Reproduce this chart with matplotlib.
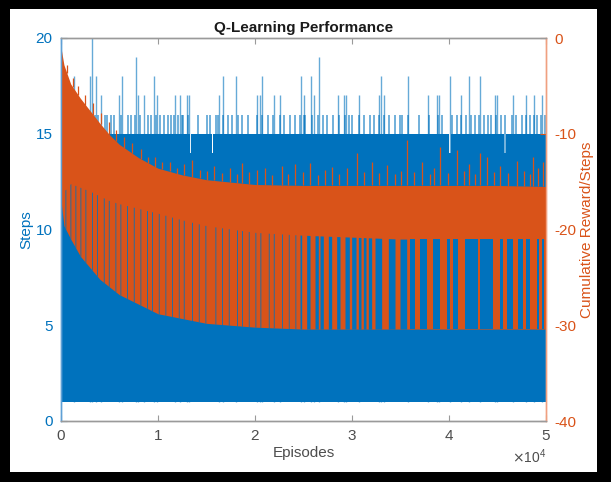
import numpy as np
import matplotlib
matplotlib.use("Agg")
import matplotlib.pyplot as plt
from matplotlib.patches import Rectangle

plt.rcParams['font.family'] = ['Liberation Sans', 'DejaVu Sans']
plt.rcParams['axes.unicode_minus'] = False

# ---------------- data ----------------
# envelope checkpoints (episodes)
env_eps = [0, 300, 1000, 2000, 3000, 4000, 5000, 6000, 8000, 10000, 12500,
           15000, 20000, 25000, 30000, 35000, 40000, 45000, 50000]
# cumulative reward / steps (right axis): dense upper edge
reward_top = [-1.0, -2.8, -4.8, -6.3, -7.6, -8.9, -10.1, -11.1, -12.5, -13.6, -14.3,
              -14.8, -15.3, -15.4, -15.4, -15.4, -15.4, -15.4, -15.5]
# bottom of the solid orange core
reward_core = [-17.0, -16.0, -15.2, -15.6, -16.0, -16.5, -17.0, -17.3, -17.8, -18.3, -19.0,
               -19.6, -20.3, -20.6, -20.8, -21.0, -21.0, -21.0, -21.0]
# lowest reward values
reward_low = [-17.0, -19.6, -21.0, -22.8, -24.0, -25.2, -26.0, -26.8, -27.8, -28.8, -29.3,
              -29.8, -30.2, -30.4, -30.4, -30.4, -30.4, -30.4, -30.4]

# episodes with rewards above the dense edge (episode, reward)
reward_spike_eps = [600, 1200, 1800, 2500, 3300, 4100, 4900, 5700, 6500, 7300, 8200,
                    9000, 9690, 10400, 11200, 12000, 12700, 13470, 14300, 15100, 15800,
                    16600, 17400, 18100, 18630, 19400, 20200, 21000, 21800, 22750, 23400,
                    24100, 24900, 25670, 26500, 27200, 27900, 28700, 29500, 30480, 31200,
                    32030, 32800, 33600, 34400, 35000, 35640, 36400, 37200, 38000, 38500,
                    39070, 39900, 40790, 41500, 42100, 42700, 43190, 43880, 44600, 45300,
                    46100, 46980, 47700, 48300, 48690, 49200, 49700]
reward_spike_vals = [-2.8, -4.2, -5.0, -6.0, -6.8, -7.8, -8.8, -9.6, -10.3, -11.0, -11.6,
                     -12.4, -12.4, -13.0, -13.0, -13.6, -13.2, -12.7, -13.8, -13.9, -13.4,
                     -14.1, -13.6, -14.2, -13.1, -14.0, -13.8, -13.6, -14.3, -13.4, -14.2,
                     -13.2, -14.0, -13.1, -14.3, -13.8, -13.5, -14.2, -13.6, -12.0, -14.0,
                     -13.0, -14.1, -13.3, -14.2, -13.9, -10.7, -14.0, -13.0, -14.2, -13.6,
                     -11.4, -14.1, -11.7, -13.9, -13.2, -14.2, -12.0, -12.4, -14.0, -13.4,
                     -14.1, -12.8, -13.9, -14.2, -12.4, -13.6, -13.0]

# episode ranges where reward stays in the core (steps series shows through)
gap_start = [412, 928, 1443, 1959, 2474, 3161, 3677, 4364, 4880, 5567, 6082, 6770, 7457,
             8144, 8832, 9347, 10034, 10721, 11409, 12096, 12611, 13470, 14158, 14845,
             15876, 16563, 17250, 18110, 18625, 19312, 20000, 20515, 21374, 21890, 22749,
             23436, 24123, 24639, 25326, 26185, 26701, 27560, 28419, 29278, 29965, 30653,
             31168, 31683, 32371, 33746, 34948, 35979, 37010, 38385, 39760, 40447, 41649,
             43200, 45257, 45945, 47147, 47900, 49038, 49600]
gap_end = [492, 1008, 1523, 2039, 2554, 3241, 3757, 4444, 4960, 5647, 6162, 6850, 7537,
           8224, 8912, 9427, 10114, 10801, 11489, 12176, 12691, 13550, 14238, 14925,
           15956, 16643, 17330, 18190, 18705, 19392, 20080, 20595, 21454, 21970, 22829,
           23516, 24203, 24811, 25670, 26529, 27044, 27904, 28762, 29725, 30412, 30928,
           31443, 32027, 33058, 34433, 35636, 36495, 37698, 39072, 40103, 40962, 43000,
           44570, 45601, 46632, 47600, 48350, 49300, 49800]

# steps series: typical maximum (step changes at these episodes)
cap_eps = [0, 13300, 13450, 15530, 15700, 40000, 40200, 45670, 45900, 50000]
cap_vals = [15, 14, 15, 14, 15, 14, 15, 14, 15, 15]
steps_floor = 1

# episodes reaching 16 steps
spike16_eps = [3127, 3470, 4502, 4776, 5464, 6220, 6907, 7250, 8110, 8969, 9828, 10171,
               11030, 11374, 12061, 12474, 12611, 13127, 15017, 15361, 16220, 16735, 17594,
               18625, 20171, 20687, 21889, 22577, 24123, 24639, 25051, 25120, 25876, 26495,
               26976, 28007, 28625, 29312, 30000, 30687, 31890, 32749, 33264, 33780, 34467,
               35154, 35773, 37938, 38866, 40858, 41202, 41718, 42233, 43092, 43607, 44295,
               44810, 45325, 46528, 47559, 47902, 48762, 49450, 49900,
               3800, 5200, 7600, 9300, 10600, 11700, 14100, 16000, 17200, 18200, 19300,
               21300, 23000, 23600, 27400, 29700, 31200, 32300, 34900, 36900, 39300,
               40300, 42700, 44000, 45800, 46900, 48300, 49100]
# episodes with 17+ steps
tall_eps = [1340, 2960, 3230, 3640, 4090, 5950, 6320, 7700, 7970, 8560, 9560, 9930,
            11780, 12240, 12960, 13230, 16320, 16670, 18040, 20170, 20520, 20760, 21990,
            22580, 24710, 25050, 25800, 26050, 26570, 28560, 29140, 29380, 30690, 32750,
            33020, 33300, 35770, 37840, 38800, 38970, 40100, 41210, 42060, 43200, 44740,
            44980, 46630, 47910, 48770, 49620]
tall_vals = [18, 18, 20, 18, 17, 17, 18, 19, 17, 17, 18, 17,
             17, 17, 17, 17, 17, 18, 18, 17, 17, 18, 17,
             17, 18, 17, 18, 17, 19, 17, 17, 17, 17, 17,
             18, 17, 18, 17, 17, 17, 18, 17, 18, 18, 17,
             17, 17, 17, 17, 17]

x_ticks = [0, 10000, 20000, 30000, 40000, 50000]
steps_ticks = [0, 5, 10, 15, 20]
reward_ticks = [-40, -30, -20, -10, 0]

# ---------------- styling ----------------
BLUE = '#0072BD'
ORANGE = '#D95319'
GRAY = '#4d4d4d'
SPINE = '#9a9a9a'

fig = plt.figure(figsize=(6.11, 4.82), dpi=100)
fig.patch.set_facecolor('black')
fig.add_artist(Rectangle((10 / 611, 10 / 482), 587 / 611, 463 / 482,
                         transform=fig.transFigure, facecolor='white',
                         edgecolor='none', zorder=-10))

ax = fig.add_axes([61 / 611, 61 / 482, 485 / 611, 383 / 482])
ax2 = ax.twinx()

# steps (left axis)
ax.fill_between(cap_eps, steps_floor, cap_vals, step='post', color=BLUE, lw=0)
ax.vlines(spike16_eps, steps_floor, 16, color=BLUE, lw=1.3, alpha=0.6)
ax.vlines(tall_eps, steps_floor, tall_vals, color=BLUE, lw=1.0, alpha=0.6)

# reward (right axis)
ax2.fill_between(env_eps, reward_low, reward_top, color=ORANGE, lw=0)
for s, e in zip(gap_start, gap_end):
    xs = [s, e]
    lo = np.interp(xs, env_eps, reward_low)
    hi = np.interp(xs, env_eps, reward_core)
    ax2.fill_between(xs, lo, hi, color=BLUE, lw=0, zorder=3)
ax2.vlines(reward_spike_eps, np.interp(reward_spike_eps, env_eps, reward_top),
           reward_spike_vals, color=ORANGE, lw=0.9, zorder=4)

ax.set_xlim(0, 50000)
ax.set_ylim(0, 20)
ax2.set_ylim(-40, 0)
ax.set_xticks(x_ticks)
ax.set_yticks(steps_ticks)
ax2.set_yticks(reward_ticks)
ax.ticklabel_format(axis='x', style='sci', scilimits=(0, 0), useMathText=True)

fs = 11
ax.tick_params(axis='x', which='both', direction='in', top=True, length=4,
               color=SPINE, labelcolor=GRAY, labelsize=fs, pad=6)
ax.tick_params(axis='y', direction='in', length=4, color=BLUE, labelcolor=BLUE,
               labelsize=fs, pad=6)
ax2.tick_params(axis='y', direction='in', length=4, color=ORANGE, labelcolor=ORANGE,
                labelsize=fs, pad=6)
ax.xaxis.get_offset_text().set_color(GRAY)
ax.xaxis.get_offset_text().set_fontsize(10)

for a in (ax, ax2):
    a.spines['top'].set_color(SPINE)
    a.spines['bottom'].set_color(SPINE)
    a.spines['left'].set_color('#5fa0d6')
    a.spines['right'].set_color('#f0a080')
    for sp in a.spines.values():
        sp.set_linewidth(1.0)

ax.set_xlabel('Episodes', color=GRAY, fontsize=fs, labelpad=2)
ax.set_ylabel('Steps', color=BLUE, fontsize=fs, labelpad=2)
ax2.set_ylabel('Cumulative Reward/Steps', color=ORANGE, fontsize=fs, labelpad=3)
ax.set_title('Q-Learning Performance', fontsize=11, fontweight='bold',
             color='#1a1a1a', pad=4)

fig.savefig('out.png', dpi=100, facecolor=fig.get_facecolor())
